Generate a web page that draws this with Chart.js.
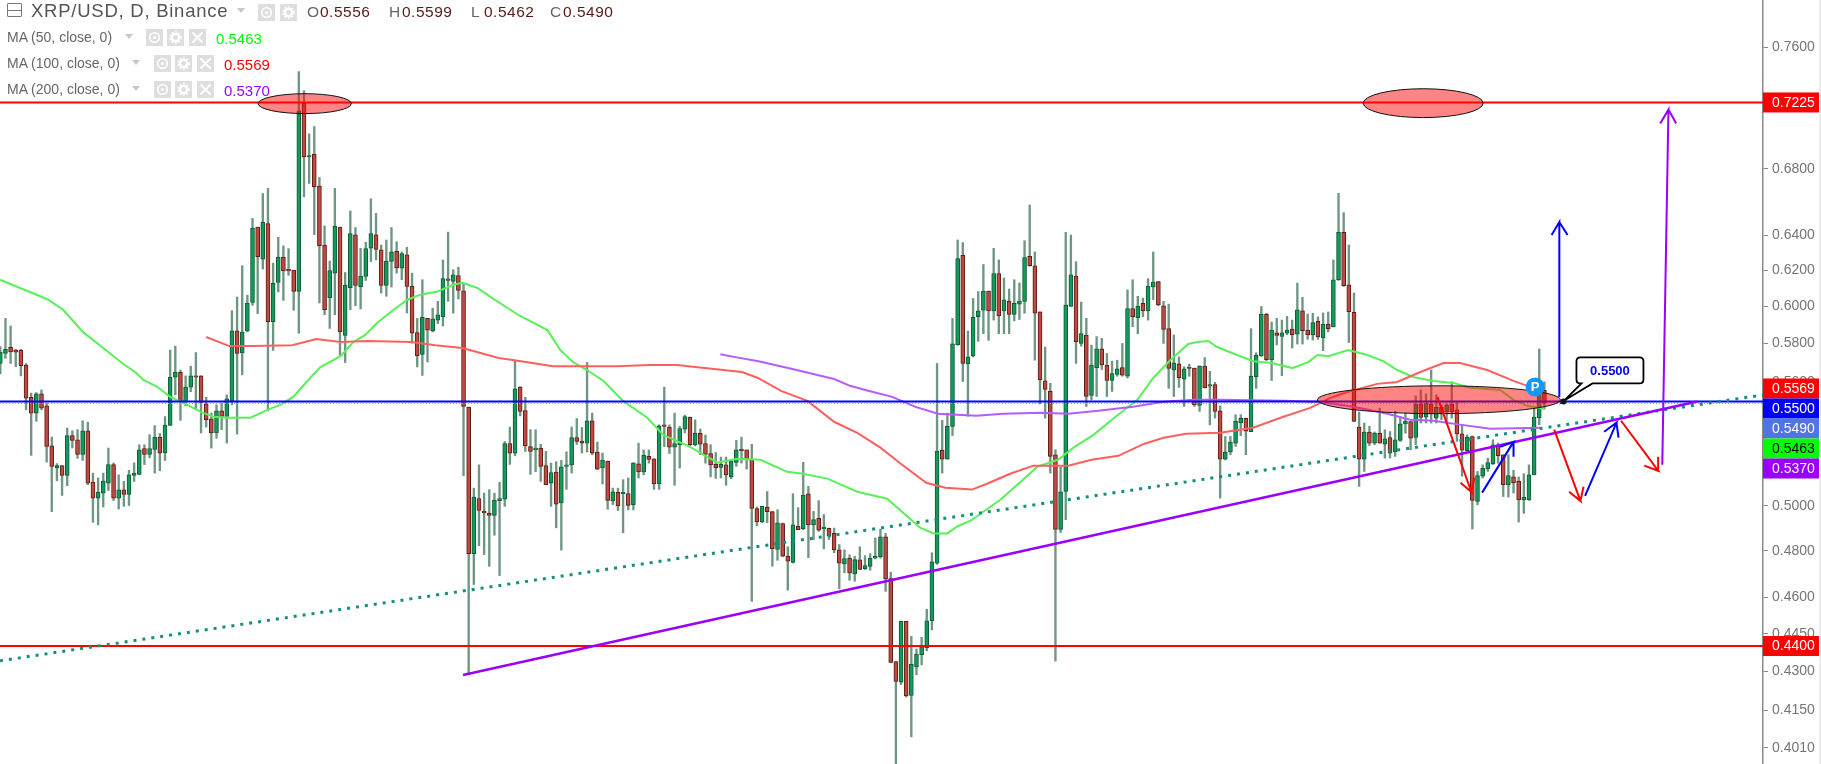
<!DOCTYPE html>
<html><head><meta charset="utf-8"><title>XRP/USD</title>
<script src="https://cdn.jsdelivr.net/npm/chart.js@4"></script>
<style>
html,body{margin:0;padding:0;background:#fff;overflow:hidden}
#wrap{position:relative;width:1821px;height:764px}
#c{position:absolute;left:0;top:0}
.t{position:absolute;white-space:nowrap;font-family:"Liberation Sans",Arial,sans-serif;line-height:1}
.b{position:absolute;width:17px;height:17px;background:#dedede}
.b svg{display:block}
.m{position:absolute;width:0;height:0;border-left:4.5px solid transparent;border-right:4.5px solid transparent;border-top:5px solid #c8c8c8}
</style></head><body><div id="wrap"><canvas id="c" width="1821" height="764"></canvas></div>
<script>
const opens=[
0.5694,0.5746,0.5778,0.5764,0.5764,0.5685,0.5521,0.5442,0.5538,0.5478,
0.5282,0.5176,0.5187,0.5141,0.5331,0.5311,0.5241,0.5355,0.5110,0.5036,
0.5059,0.5105,0.5192,0.5036,0.5074,0.5053,0.5141,0.5146,0.5269,0.5241,
0.5265,0.5324,0.5249,0.5381,0.5623,0.5648,0.5500,0.5572,0.5630,0.5630,
0.5488,0.5414,0.5344,0.5453,0.5425,0.5500,0.5866,0.5749,0.5865,0.6020,
0.6448,0.6262,0.6469,0.5915,0.6131,0.6273,0.6202,0.6200,0.6081,0.7220,
0.6874,0.6892,0.6694,0.6344,0.6046,0.6183,0.6448,0.5842,0.6101,0.6403,
0.6107,0.6165,0.6325,0.6403,0.6316,0.6114,0.6249,0.6308,0.6211,0.6287,
0.6111,0.5857,0.5741,0.5933,0.5866,0.5924,0.5943,0.6146,0.6137,0.6169,
0.6084,0.5472,0.4787,0.5034,0.4977,0.4966,0.4957,0.5024,0.5031,0.5293,
0.5247,0.5572,0.5454,0.5278,0.5263,0.5271,0.5187,0.5105,0.5157,0.5014,
0.5184,0.5190,0.5322,0.5305,0.5295,0.5404,0.5252,0.5176,0.5209,0.5023,
0.5062,0.5056,0.5057,0.5006,0.5196,0.5158,0.5231,0.5219,0.5101,0.5384,
0.5373,0.5275,0.5287,0.5363,0.5422,0.5287,0.5342,0.5293,0.5244,0.5193,
0.5179,0.5191,0.5135,0.5203,0.5264,0.5262,0.5217,0.4988,0.4927,0.4995,
0.4974,0.4805,0.4920,0.4776,0.4749,0.4908,0.4897,0.5056,0.4914,0.4944,
0.4897,0.4899,0.4877,0.4804,0.4742,0.4766,0.4700,0.4760,0.4721,0.4731,
0.4767,0.4773,0.4861,0.4679,0.4338,0.4257,0.4500,0.4206,0.4317,0.4365,
0.4393,0.4503,0.4746,0.5260,0.5218,0.5376,0.5792,0.6285,0.5691,0.5733,
0.5942,0.5978,0.6083,0.5974,0.6180,0.5974,0.6028,0.5954,0.6010,0.6026,
0.6279,0.6224,0.5968,0.5604,0.5551,0.5239,0.4894,0.5067,0.5998,0.6166,
0.5799,0.5844,0.5530,0.5672,0.5771,0.5686,0.5606,0.5637,0.5673,0.5628,
0.5987,0.5937,0.6015,0.5974,0.6106,0.6135,0.6002,0.5878,0.5660,0.5692,
0.5613,0.5673,0.5670,0.5480,0.5680,0.5577,0.5585,0.5453,0.5218,0.5253,
0.5295,0.5393,0.5416,0.5351,0.5626,0.5733,0.5957,0.5714,0.5856,0.5836,
0.5853,0.5875,0.5848,0.5974,0.5870,0.5846,0.5917,0.5828,0.5901,0.5887,
0.6146,0.6418,0.6118,0.5966,0.5373,0.5218,0.5349,0.5295,0.5342,0.5290,
0.5322,0.5252,0.5308,0.5388,0.5400,0.5322,0.5488,0.5422,0.5488,0.5417,
0.5471,0.5446,0.5488,0.5458,0.5340,0.5259,0.5327,0.5020,0.5137,0.5172,
0.5196,0.5287,0.5239,0.5098,0.5134,0.5113,0.5028,0.5028,0.5144,0.5418,
0.5556];
const highs=[
0.5782,0.5933,0.5892,0.5768,0.5768,0.5694,0.5542,0.5545,0.5558,0.5491,
0.5324,0.5197,0.5187,0.5368,0.5355,0.5360,0.5404,0.5397,0.5152,0.5129,
0.5152,0.5271,0.5200,0.5144,0.5113,0.5165,0.5200,0.5287,0.5287,0.5336,
0.5380,0.5341,0.5425,0.5764,0.5785,0.5660,0.5630,0.5680,0.5751,0.5630,
0.5521,0.5442,0.5483,0.5491,0.5533,0.5975,0.6050,0.6225,0.6060,0.6500,
0.6448,0.6649,0.6680,0.6240,0.6389,0.6339,0.6323,0.6200,0.7431,0.7303,
0.7021,0.7068,0.6747,0.6455,0.6252,0.6680,0.6448,0.6187,0.6544,0.6446,
0.6325,0.6360,0.6617,0.6530,0.6344,0.6373,0.6446,0.6363,0.6304,0.6331,
0.6183,0.5933,0.6146,0.5933,0.5989,0.6026,0.6258,0.6419,0.6202,0.6217,
0.6128,0.5472,0.5082,0.5191,0.5059,0.5075,0.5059,0.5109,0.5303,0.5373,
0.5711,0.5575,0.5521,0.5360,0.5360,0.5289,0.5255,0.5199,0.5206,0.5212,
0.5253,0.5373,0.5415,0.5371,0.5699,0.5442,0.5300,0.5247,0.5209,0.5082,
0.5082,0.5121,0.5129,0.5202,0.5295,0.5262,0.5262,0.5220,0.5384,0.5572,
0.5384,0.5442,0.5376,0.5432,0.5422,0.5409,0.5363,0.5334,0.5287,0.5250,
0.5228,0.5228,0.5209,0.5308,0.5324,0.5262,0.5289,0.4995,0.4998,0.5066,
0.4974,0.4983,0.4923,0.4817,0.5056,0.4992,0.5203,0.5090,0.4975,0.5024,
0.4961,0.4900,0.4900,0.4827,0.4804,0.4782,0.4775,0.4817,0.4778,0.4787,
0.4856,0.4895,0.4876,0.4707,0.4338,0.4500,0.4500,0.4439,0.4388,0.4435,
0.4550,0.4791,0.5694,0.5406,0.5442,0.5933,0.6373,0.6358,0.5865,0.6042,
0.6080,0.6232,0.6083,0.6325,0.6258,0.6156,0.6094,0.6146,0.6128,0.6369,
0.6580,0.6304,0.5968,0.5780,0.5592,0.5263,0.5181,0.6418,0.6402,0.6248,
0.6022,0.5933,0.5790,0.5835,0.5826,0.5746,0.5706,0.5711,0.5799,0.6090,
0.6146,0.6054,0.6044,0.6152,0.6304,0.6137,0.6026,0.6011,0.5844,0.5728,
0.5677,0.5690,0.5670,0.5682,0.5725,0.5653,0.5597,0.5478,0.5327,0.5327,
0.5434,0.5434,0.5417,0.5878,0.5750,0.5998,0.5961,0.5914,0.5933,0.5924,
0.5944,0.5924,0.6127,0.6048,0.5957,0.5961,0.5941,0.5963,0.5968,0.6258,
0.6650,0.6534,0.6344,0.6072,0.5447,0.5393,0.5377,0.5349,0.5466,0.5360,
0.5351,0.5451,0.5425,0.5442,0.5400,0.5528,0.5558,0.5538,0.5660,0.5533,
0.5483,0.5491,0.5600,0.5496,0.5384,0.5335,0.5330,0.5160,0.5191,0.5223,
0.5311,0.5295,0.5239,0.5239,0.5165,0.5134,0.5149,0.5191,0.5466,0.5770,
0.5599];
const lows=[
0.5640,0.5720,0.5694,0.5677,0.5630,0.5458,0.5236,0.5401,0.5458,0.5204,
0.4974,0.5116,0.5048,0.5093,0.5271,0.5222,0.5212,0.5098,0.4926,0.4914,
0.4995,0.5071,0.5025,0.4986,0.4998,0.5002,0.5113,0.5144,0.5192,0.5224,
0.5152,0.5163,0.5212,0.5381,0.5533,0.5406,0.5478,0.5549,0.5458,0.5344,
0.5373,0.5271,0.5318,0.5360,0.5295,0.5483,0.5339,0.5635,0.5860,0.6004,
0.5959,0.6206,0.5453,0.5762,0.6078,0.6031,0.6171,0.5977,0.5853,0.6629,
0.6710,0.6405,0.6017,0.5953,0.5879,0.5953,0.5736,0.5699,0.5980,0.6002,
0.5984,0.6142,0.6249,0.6258,0.6072,0.6054,0.6105,0.6183,0.6146,0.5962,
0.5800,0.5676,0.5632,0.5702,0.5860,0.5905,0.5892,0.6026,0.5962,0.6039,
0.5140,0.4290,0.4654,0.4822,0.4783,0.4732,0.4868,0.4692,0.4998,0.5193,
0.5234,0.5428,0.5255,0.5146,0.5158,0.5113,0.5098,0.4998,0.4901,0.4802,
0.5076,0.5152,0.5289,0.5247,0.5252,0.5239,0.5168,0.5101,0.4985,0.5006,
0.4979,0.4879,0.4982,0.4982,0.5129,0.5144,0.5199,0.5076,0.5076,0.5278,
0.5245,0.5095,0.5176,0.5344,0.5281,0.5281,0.5239,0.5199,0.5134,0.5127,
0.5129,0.5095,0.5126,0.5184,0.5199,0.5171,0.4583,0.4910,0.4924,0.4924,
0.4732,0.4758,0.4773,0.4630,0.4746,0.4893,0.4893,0.4769,0.4849,0.4885,
0.4808,0.4849,0.4791,0.4636,0.4704,0.4672,0.4668,0.4718,0.4718,0.4715,
0.4764,0.4767,0.4625,0.4333,0.3951,0.4248,0.4200,0.4050,0.4286,0.4325,
0.4381,0.4465,0.4740,0.5152,0.5218,0.5332,0.5789,0.5601,0.5426,0.5728,
0.5810,0.5851,0.5815,0.5924,0.5851,0.5851,0.5851,0.5920,0.5927,0.5961,
0.6222,0.5711,0.5488,0.5417,0.5152,0.4340,0.4880,0.4938,0.5998,0.5694,
0.5785,0.5475,0.5508,0.5525,0.5663,0.5525,0.5550,0.5628,0.5628,0.5619,
0.5888,0.5851,0.5942,0.5924,0.6035,0.6002,0.5799,0.5566,0.5525,0.5571,
0.5475,0.5628,0.5475,0.5450,0.5568,0.5384,0.5417,0.5036,0.5214,0.5239,
0.5279,0.5331,0.5239,0.5351,0.5566,0.5731,0.5709,0.5606,0.5791,0.5631,
0.5845,0.5775,0.5796,0.5796,0.5821,0.5817,0.5821,0.5761,0.5860,0.5887,
0.6142,0.6109,0.5804,0.5401,0.5090,0.5160,0.5283,0.5287,0.5295,0.5223,
0.5223,0.5231,0.5303,0.5343,0.5263,0.5287,0.5393,0.5393,0.5393,0.5393,
0.5409,0.5393,0.5417,0.5303,0.5137,0.5256,0.4896,0.5005,0.5129,0.5160,
0.5192,0.5199,0.5043,0.5040,0.5059,0.4927,0.4966,0.5025,0.5144,0.5384,
0.5462];
const closes=[
0.5754,0.5768,0.5754,0.5753,0.5682,0.5516,0.5442,0.5538,0.5467,0.5279,
0.5184,0.5187,0.5141,0.5331,0.5308,0.5241,0.5355,0.5105,0.5036,0.5064,
0.5115,0.5192,0.5036,0.5074,0.5053,0.5144,0.5152,0.5263,0.5241,0.5269,
0.5324,0.5247,0.5383,0.5623,0.5648,0.5500,0.5572,0.5630,0.5623,0.5495,
0.5409,0.5344,0.5453,0.5425,0.5513,0.5866,0.5746,0.5859,0.6017,0.6442,
0.6277,0.6476,0.5915,0.6126,0.6273,0.6196,0.6196,0.6081,0.7170,0.6874,
0.6882,0.6690,0.6340,0.5980,0.6197,0.6453,0.5860,0.6116,0.6411,0.6114,
0.6167,0.6323,0.6411,0.6318,0.6114,0.6251,0.6304,0.6213,0.6295,0.6109,
0.5853,0.5734,0.5939,0.5870,0.5931,0.5953,0.6152,0.6142,0.6174,0.6087,
0.5475,0.4787,0.5040,0.4980,0.4968,0.4957,0.5027,0.5034,0.5293,0.5247,
0.5564,0.5450,0.5281,0.5255,0.5271,0.5184,0.5098,0.5155,0.5008,0.5181,
0.5187,0.5322,0.5303,0.5295,0.5404,0.5247,0.5171,0.5213,0.5025,0.5065,
0.5000,0.5059,0.5002,0.5199,0.5158,0.5236,0.5217,0.5101,0.5379,0.5376,
0.5275,0.5293,0.5366,0.5425,0.5287,0.5342,0.5290,0.5241,0.5190,0.5178,
0.5193,0.5143,0.5209,0.5262,0.5259,0.5219,0.4989,0.4928,0.4998,0.4974,
0.4808,0.4923,0.4776,0.4754,0.4914,0.4893,0.5050,0.4914,0.4938,0.4891,
0.4900,0.4866,0.4803,0.4746,0.4765,0.4704,0.4761,0.4719,0.4735,0.4767,
0.4775,0.4861,0.4678,0.4335,0.4260,0.4500,0.4204,0.4327,0.4368,0.4397,
0.4502,0.4751,0.5257,0.5218,0.5376,0.5797,0.6266,0.5694,0.5728,0.5939,
0.5974,0.6083,0.5974,0.6180,0.5946,0.6035,0.5954,0.6015,0.6028,0.6272,
0.6226,0.5961,0.5609,0.5561,0.5231,0.4894,0.5065,0.6006,0.6174,0.5808,
0.5851,0.5525,0.5686,0.5771,0.5687,0.5606,0.5642,0.5666,0.5633,0.5987,
0.5942,0.6000,0.5974,0.6111,0.6133,0.6006,0.5874,0.5668,0.5697,0.5621,
0.5666,0.5668,0.5483,0.5680,0.5568,0.5585,0.5450,0.5218,0.5250,0.5300,
0.5403,0.5416,0.5353,0.5629,0.5736,0.5957,0.5714,0.5870,0.5841,0.5856,
0.5870,0.5846,0.5979,0.5867,0.5846,0.5910,0.5833,0.5901,0.5878,0.6146,
0.6418,0.6113,0.5970,0.5401,0.5218,0.5349,0.5295,0.5343,0.5295,0.5316,
0.5247,0.5311,0.5389,0.5401,0.5319,0.5488,0.5420,0.5491,0.5438,0.5471,
0.5442,0.5483,0.5448,0.5339,0.5261,0.5324,0.5025,0.5140,0.5175,0.5202,
0.5287,0.5235,0.5098,0.5140,0.5106,0.5028,0.5039,0.5144,0.5422,0.5554,
0.5490];

const ma50Idx=[0,2.3,6.6,9.3,12.2,16.1,20,23.9,26.2,27.8,30.5,33,36.3,39.4,41.4,44.7,48.6,51.9,54.4,56.9,60.2,62.2,66.1,68.6,70.9,73.2,76.4,79.1,81.6,84.9,88,89.8,92.7,95.8,99.1,101,106.3,108.8,111.3,114,117.2,121,125.7,128.8,134,139.3,143.2,147.7,152.9,156,160.7,166.5,172.3,175.4,178.7,181.3,184,185.9,188.5,194.3,197.6,201.5,205.5,208.5,212.4,216.2,220.9,224,227.3,230.8,232.6,234.7,236.4,240.3,243.4,247.1,251,254.1,255.9,258,261.9,265.6,268.7,271.4,274.5,278.4,282.3,285.6,291.4,294,296.7,300];
const ma50=[0.6146,0.6118,0.6068,0.6035,0.5980,0.5859,0.5775,0.5691,0.5650,0.5609,0.5574,0.5523,0.5483,0.5443,0.5424,0.5419,0.5419,0.5458,0.5483,0.5523,0.5619,0.5675,0.5732,0.5806,0.5844,0.5908,0.5980,0.6035,0.6063,0.6080,0.6118,0.6129,0.6100,0.6040,0.5980,0.5946,0.5870,0.5764,0.5701,0.5660,0.5604,0.5503,0.5419,0.5335,0.5277,0.5201,0.5220,0.5215,0.5158,0.5149,0.5126,0.5065,0.5033,0.4969,0.4902,0.4876,0.4876,0.4907,0.4933,0.5028,0.5098,0.5182,0.5215,0.5273,0.5335,0.5414,0.5508,0.5619,0.5711,0.5796,0.5806,0.5812,0.5780,0.5738,0.5706,0.5696,0.5670,0.5701,0.5738,0.5732,0.5764,0.5738,0.5706,0.5660,0.5624,0.5604,0.5594,0.5569,0.5558,0.5508,0.5478,0.5463];
const ma100Idx=[40,44.5,49.2,56.7,61.4,66.1,71.5,79.9,84.5,89.8,96.8,99.9,107.4,119.9,126.1,131.5,136.8,144.1,147.2,151.7,156.8,162,166.5,171,174.7,179.9,183.6,188.8,191.7,196.2,200.7,207.5,212,217.2,222.3,226,230.4,237,243.4,249.3,254.5,258.4,261.7,267.5,271.4,275.9,280.4,283.6,288.9,294,296.7,300];
const ma100=[0.5833,0.5785,0.5785,0.5790,0.5822,0.5806,0.5812,0.5806,0.5790,0.5775,0.5722,0.5711,0.5680,0.5680,0.5686,0.5686,0.5670,0.5650,0.5619,0.5553,0.5503,0.5399,0.5345,0.5273,0.5201,0.5107,0.5084,0.5075,0.5102,0.5149,0.5187,0.5187,0.5215,0.5234,0.5292,0.5321,0.5340,0.5345,0.5370,0.5424,0.5468,0.5518,0.5548,0.5589,0.5599,0.5650,0.5696,0.5696,0.5660,0.5604,0.5579,0.5569];
const ma200Idx=[139.9,142.8,147.3,153.9,162,165.1,168.8,173.3,177.8,182.2,189.6,194.9,202.3,207.5,213.3,220.1,226,232,237,249.3,255.9,261.7,264.8,269.5,273.9,278.4,283.6,289.5,299.2];
const ma200=[0.5742,0.5727,0.5706,0.5665,0.5614,0.5579,0.5553,0.5523,0.5473,0.5439,0.5429,0.5439,0.5443,0.5439,0.5453,0.5473,0.5498,0.5508,0.5508,0.5503,0.5498,0.5478,0.5463,0.5439,0.5409,0.5404,0.5385,0.5365,0.5370];

const levelResistance=0.7225, levelPivot=0.55, levelSupport=0.44, lastClose=0.549;
const dottedTrendIdx=[-0.06,342.5], dottedTrend=[0.4341,0.5533];
const risingTrendIdx=[89.9,329.7], risingTrend=[0.4285,0.55];

const arrowBlueBigIdx=[302.9,302.9,301.4,302.9,304.5], arrowBlueBig=[0.5523,0.6478,0.6402,0.6478,0.6402];
const arrowPurpleBigIdx=[322.9,324.1,322.5,324.1,325.6], arrowPurpleBig=[0.5191,0.7178,0.7088,0.7178,0.7088];
const arrowRed1Idx=[279.2,285.8,283.7,285.8,286.4], arrowRed1=[0.5523,0.5065,0.5107,0.5065,0.5130];
const arrowBlue1Idx=[287.9,294,291.4,294,294], arrowBlue1=[0.5061,0.5301,0.5277,0.5301,0.5229];
const arrowRed2Idx=[301.9,307,304.8,307,307.6], arrowRed2=[0.5360,0.5023,0.5065,0.5023,0.5088];
const arrowBlue2Idx=[307.9,314,311.6,314,314.4], arrowBlue2=[0.5046,0.5394,0.5350,0.5394,0.5321];
const arrowRed3Idx=[314.9,322.1,319.4,322.1,322.1], arrowRed3=[0.5404,0.5163,0.5187,0.5163,0.5229];

const ellipseLeft=[50.1,264.8,255.9], ellipseRight=[68.2,288.1,303.1];
const ellipseTop=[0.7283,0.7316,0.5579], ellipseBottom=[0.7152,0.7126,0.5439];

const tickValues=[0.76,0.68,0.64,0.62,0.60,0.58,0.56,0.50,0.48,0.46,0.445,0.43,0.415,0.401];
const stackedFlagLabels=['0.5569','0.5500','0.5490','0.5463','0.5370'];
const stackedFlagColors=['#ff0000','#0000ff','#4f74e3','#00ff00','#9900ff'];
const stackedFlagText=['#ffffff','#ffffff','#ffffff','#000000','#ffffff'];

const X_MIN=-0.06, X_MAX=342.47, Y_MAX=0.7933, Y_MIN=0.3951;

const pts=(xs,ys)=>xs.map((x,i)=>({x,y:ys[i]}));
const line=(label,xs,ys,color,width,order,extra)=>Object.assign({type:'line',label,data:pts(xs,ys),borderColor:color,backgroundColor:color,borderWidth:width,pointRadius:0,tension:0,order,fill:false},extra||{});
const isUp=i=>closes[i]>=opens[i];

const overlay={id:'overlay',
 afterDatasetDraw(chart,args){
  if(chart.data.datasets[args.index].label!=='Rising trend')return;
  const {x,y}=chart.scales,ctx=chart.ctx;
  ellipseLeft.forEach((l,i)=>{
    const x0=x.getPixelForValue(l),x1=x.getPixelForValue(ellipseRight[i]);
    const y0=y.getPixelForValue(ellipseTop[i]),y1=y.getPixelForValue(ellipseBottom[i]);
    ctx.save();ctx.beginPath();
    ctx.ellipse((x0+x1)/2,(y0+y1)/2,(x1-x0)/2,(y1-y0)/2,0,0,Math.PI*2);
    ctx.fillStyle='rgba(255,10,10,0.5)';ctx.fill();
    ctx.strokeStyle='#111';ctx.lineWidth=1;ctx.stroke();ctx.restore();
  });
 },
 afterDatasetsDraw(chart){
  const {x,y}=chart.scales,ctx=chart.ctx;
  // pivot marker
  const px=x.getPixelForValue(298.2),py=y.getPixelForValue(0.5573);
  ctx.save();
  ctx.beginPath();ctx.arc(px,py,9.5,0,Math.PI*2);ctx.fillStyle='#1497f5';ctx.fill();
  ctx.fillStyle='#fff';ctx.font='bold 13px "Liberation Sans",Arial';ctx.textAlign='center';ctx.textBaseline='middle';
  ctx.fillText('P',px,py+0.5);
  // callout
  const ax=x.getPixelForValue(303.7),ay=y.getPixelForValue(levelPivot);
  const bx=ax+13,by=ay-44,bw=67,bh=26;
  ctx.beginPath();
  ctx.moveTo(bx+4,by);ctx.lineTo(bx+bw-4,by);ctx.quadraticCurveTo(bx+bw,by,bx+bw,by+4);
  ctx.lineTo(bx+bw,by+bh-4);ctx.quadraticCurveTo(bx+bw,by+bh,bx+bw-4,by+bh);
  ctx.lineTo(bx+16,by+bh);ctx.lineTo(ax+1,ay-1);ctx.lineTo(bx+5,by+bh);ctx.lineTo(bx+4,by+bh);
  ctx.quadraticCurveTo(bx,by+bh,bx,by+bh-4);ctx.lineTo(bx,by+4);ctx.quadraticCurveTo(bx,by,bx+4,by);ctx.closePath();
  ctx.fillStyle='#fff';ctx.fill();ctx.strokeStyle='#000';ctx.lineWidth=1.8;ctx.stroke();
  ctx.beginPath();ctx.arc(ax,ay,3,0,Math.PI*2);ctx.fillStyle='#111';ctx.fill();
  ctx.fillStyle='#0000ff';ctx.font='bold 13px "Liberation Sans",Arial';
  ctx.fillText('0.5500',bx+bw/2,by+bh/2+0.5);
  ctx.restore();
 },
 afterDraw(chart){
  const {y}=chart.scales,ctx=chart.ctx,L=chart.chartArea.right;
  const flag=(cy,bg,fg,t)=>{
    ctx.fillStyle=bg;ctx.fillRect(L,cy-10,56,20);
    ctx.fillStyle=fg;ctx.font='14px "Liberation Sans",Arial';ctx.textAlign='left';ctx.textBaseline='middle';
    ctx.fillText(t,L+9,cy+0.5);
  };
  ctx.save();
  flag(y.getPixelForValue(levelResistance),'#ff0000','#fff','0.7225');
  flag(y.getPixelForValue(levelSupport),'#ff0000','#fff','0.4400');
  stackedFlagLabels.forEach((t,i)=>flag(388.5+20*i,stackedFlagColors[i],stackedFlagText[i],t));
  ctx.fillStyle='#e4e4e4';ctx.fillRect(1819.5,0,1.5,764);
  ctx.restore();
 }
};

Chart.defaults.font.family='"Liberation Sans",Arial,sans-serif';
new Chart(document.getElementById('c'),{
 type:'bar',
 plugins:[overlay],
 data:{datasets:[
  {type:'bar',label:'Wicks',order:30,grouped:false,barThickness:1.7,backgroundColor:'#6f9683',borderWidth:0,
   data:highs.map((h,i)=>({x:i,y:[lows[i],h]}))},
  {type:'bar',label:'Candles',order:29,grouped:false,barThickness:4,minBarLength:1.5,borderSkipped:false,borderWidth:1,
   backgroundColor:opens.map((o,i)=>isUp(i)?'#129a5a':'#bd4a40'),
   borderColor:opens.map((o,i)=>isUp(i)?'#0e5c38':'#5f1c16'),
   data:opens.map((o,i)=>({x:i,y:[o,closes[i]]}))},
  line('MA 50',ma50Idx,ma50,'#5af05a',2,20),
  line('MA 100',ma100Idx,ma100,'#ff5f5f',2,19),
  line('MA 200',ma200Idx,ma200,'#b55cff',2,18),
  line('Last close',[X_MIN,X_MAX],[lastClose,lastClose],'#8ea4f5',1,17,{borderDash:[1,2]}),
  line('Resistance 0.7225',[X_MIN,X_MAX],[levelResistance,levelResistance],'#ff0000',2,16),
  line('Support 0.4400',[X_MIN,X_MAX],[levelSupport,levelSupport],'#ff0000',2,15),
  line('Pivot 0.5500',[X_MIN,X_MAX],[levelPivot,levelPivot],'#0000ff',2,14),
  line('Dotted trend',dottedTrendIdx,dottedTrend,'#11907e',3,13,{borderDash:[3,6]}),
  line('Rising trend',risingTrendIdx,risingTrend,'#9b00ff',2.5,12),
  line('Arrow blue big',arrowBlueBigIdx,arrowBlueBig,'#0000ff',2,10),
  line('Arrow purple big',arrowPurpleBigIdx,arrowPurpleBig,'#9b00ff',2,9),
  line('Arrow red 1',arrowRed1Idx,arrowRed1,'#ff0000',2,8),
  line('Arrow blue 1',arrowBlue1Idx,arrowBlue1,'#0000ff',2,7),
  line('Arrow red 2',arrowRed2Idx,arrowRed2,'#ff0000',2,6),
  line('Arrow blue 2',arrowBlue2Idx,arrowBlue2,'#0000ff',2,5),
  line('Arrow red 3',arrowRed3Idx,arrowRed3,'#ff0000',2,4)
 ]},
 options:{
  responsive:false,animation:false,
  layout:{padding:0},
  plugins:{legend:{display:false},tooltip:{enabled:false},title:{display:false}},
  scales:{
   x:{type:'linear',min:X_MIN,max:X_MAX,offset:false,display:false,grid:{display:false}},
   y:{type:'logarithmic',position:'right',min:Y_MIN,max:Y_MAX,
    afterBuildTicks(a){a.ticks=tickValues.map(value=>({value}));},
    afterFit(a){a.width=58;a.getPadding=()=>({left:0,right:0,top:0,bottom:0});},
    grid:{drawOnChartArea:false,drawTicks:true,tickLength:5,tickColor:'#8a8a8a',tickWidth:1},
    border:{display:true,color:'#8a8a8a',width:1.5},
    ticks:{autoSkip:false,padding:4,color:'#757575',font:{size:14},maxRotation:0,callback:v=>Number(v).toFixed(4)}
   }
  }
 }
});

// header
const wrap=document.getElementById('wrap');
function txt(s,x,cy,size,color,extra){const d=document.createElement('div');d.className='t';d.textContent=s;d.style.cssText=`left:${x}px;top:${cy-size/2}px;font-size:${size}px;color:${color};${extra||''}`;wrap.appendChild(d);return d;}
function box(x,cy,kind){const d=document.createElement('div');d.className='b';d.style.left=x+'px';d.style.top=(cy-8.5)+'px';
 const g={eye:'<circle cx="8.5" cy="8.5" r="4.8" fill="none" stroke="#fff" stroke-width="1.6"/><circle cx="8.5" cy="8.5" r="1.6" fill="#fff"/>',
  gear:'<circle cx="8.5" cy="8.5" r="3.6" fill="none" stroke="#fff" stroke-width="2.4"/><circle cx="8.5" cy="8.5" r="5.6" fill="none" stroke="#fff" stroke-width="1.4" stroke-dasharray="2 1.6"/>',
  x:'<path d="M3.5 3.5L13.5 13.5M13.5 3.5L3.5 13.5" stroke="#fff" stroke-width="1.8"/>'}[kind];
 d.innerHTML='<svg width="17" height="17">'+g+'</svg>';wrap.appendChild(d);}
function caret(x,cy){const d=document.createElement('div');d.className='m';d.style.left=x+'px';d.style.top=(cy-2.5)+'px';wrap.appendChild(d);}

const collapse=document.createElement('div');collapse.style.cssText='position:absolute;left:7px;top:3px;width:13px;height:12px;border:1px solid #777;border-radius:1px;background:linear-gradient(#777,#777) center/13px 1px no-repeat;';wrap.appendChild(collapse);
txt('XRP/USD, D, Binance',31,11,18.5,'#555',"letter-spacing:.75px");
caret(237,10);box(258,12,'eye');box(280,12,'gear');
[['O','0.5556',307],['H','0.5599',389],['L','0.5462',471],['C','0.5490',550]].forEach(r=>{
  txt(r[0],r[2],12,15.5,'#666','letter-spacing:.5px');
  txt(r[1],r[2]+13,12,15.5,'#5a1a14','letter-spacing:.5px');
});
[['MA (50, close, 0)','0.5463','#00ff00',37,146,216,125],['MA (100, close, 0)','0.5569','#ff0000',63,154,224,132],['MA (200, close, 0)','0.5370','#9900ff',89,154,224,132]].forEach(r=>{
  txt(r[0],7,r[3],14,'#666');
  caret(r[6],r[3]-1);box(r[4],r[3],'eye');box(r[4]+21,r[3],'gear');box(r[4]+43,r[3],'x');
  txt(r[1],r[5],r[3]+1,15,r[2]);
});
</script></body></html>
